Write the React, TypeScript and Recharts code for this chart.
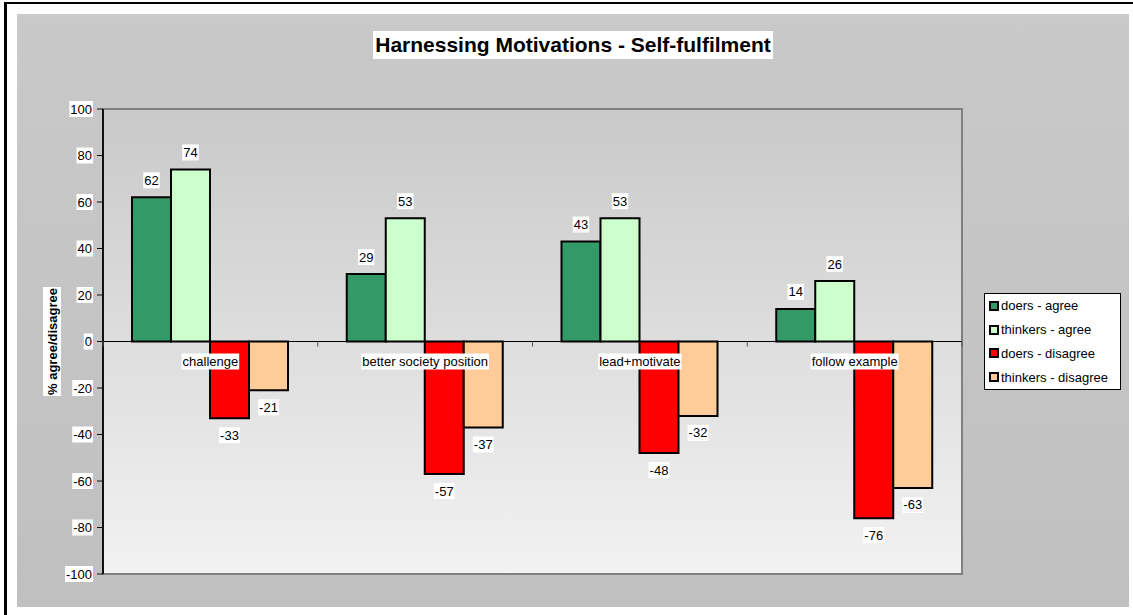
import React from 'react';
import { BarChart, Bar, XAxis, YAxis, ReferenceLine, ReferenceArea, CartesianGrid, LabelList, Legend } from 'recharts';

const categories = ['challenge', 'better society position', 'lead+motivate', 'follow example'];
const doersAgree = [62, 29, 43, 14];
const thinkersAgree = [74, 53, 53, 26];
const doersDisagree = [-33, -57, -48, -76];
const thinkersDisagree = [-21, -37, -32, -63];
const yTicks = [-100, -80, -60, -40, -20, 0, 20, 40, 60, 80, 100];

const series = [
  { key: 'doersAgree', name: 'doers - agree', color: '#339966' },
  { key: 'thinkersAgree', name: 'thinkers - agree', color: '#CCFFCC' },
  { key: 'doersDisagree', name: 'doers - disagree', color: '#FF0000' },
  { key: 'thinkersDisagree', name: 'thinkers - disagree', color: '#FFCC99' },
];

const data = categories.map((category, i) => ({
  category,
  doersAgree: doersAgree[i],
  thinkersAgree: thinkersAgree[i],
  doersDisagree: doersDisagree[i],
  thinkersDisagree: thinkersDisagree[i],
}));

const W = 1133;
const H = 615;
const FONT = "'Liberation Sans', Arial, sans-serif";
const X_AXIS_H = 1;
const MARGIN = { top: 109, right: 171, bottom: 41 - X_AXIS_H, left: 43 };
const Y_AXIS_W = 60;
const PLOT_H = H - MARGIN.top - MARGIN.bottom - X_AXIS_H;
const PLOT_W = W - MARGIN.left - MARGIN.right - Y_AXIS_W;
// y of the zero line (domain is -100..100)
const ZERO_Y = MARGIN.top + PLOT_H / 2;

const canvasCtx = typeof document !== 'undefined' ? document.createElement('canvas').getContext('2d') : null;
function textWidth(s: string, size = 13, weight = 'normal') {
  if (!canvasCtx) return s.length * size * 0.55;
  canvasCtx.font = `${weight} ${size}px ${FONT}`;
  return canvasCtx.measureText(s).width;
}

function BoxedText({ x, y, text, anchor = 'middle', size = 13, weight = 'normal' }: any) {
  const w = textWidth(text, size, weight);
  const left = anchor === 'end' ? x - w : anchor === 'start' ? x : x - w / 2;
  return (
    <g>
      <rect x={left - 1} y={y - 8} width={w + 2} height={16} fill="#fff" />
      <text x={x} y={y} textAnchor={anchor} dominantBaseline="central" fontSize={size} fontWeight={weight} fontFamily={FONT} fill="#000">
        {text}
      </text>
    </g>
  );
}

const YTick = ({ x, y, payload }: any) => <BoxedText x={x} y={y} text={String(payload.value)} anchor="end" />;

const CategoryTick = ({ x, index, visibleTicksCount, payload }: any) => {
  const band = PLOT_W / categories.length;
  const left = x - band / 2;
  const right = x + band / 2;
  return (
    <g>
      <line x1={left} x2={left} y1={ZERO_Y} y2={ZERO_Y + 5} stroke="#555" strokeWidth={1} />
      {index === (visibleTicksCount ?? categories.length) - 1 && (
        <line x1={right} x2={right} y1={ZERO_Y} y2={ZERO_Y + 5} stroke="#555" strokeWidth={1} />
      )}
      <BoxedText x={x} y={ZERO_Y + 20} text={String(payload.value)} />
    </g>
  );
};

const ValueLabel = (props: any) => {
  const { x, y, width, height, value } = props;
  const cx = x + width / 2;
  const end = value >= 0 ? Math.min(y, y + height) : Math.max(y, y + height);
  const cy = value >= 0 ? end - 17 : end + 17;
  return <BoxedText x={cx} y={cy} text={String(value)} />;
};

const YLabel = (props: any) => {
  const vb = props.viewBox || { x: MARGIN.left, y: MARGIN.top, width: Y_AXIS_W, height: PLOT_H };
  const cx = vb.x + 9;
  const cy = vb.y + vb.height / 2;
  const text = '% agree/disagree';
  const w = textWidth(text, 13, 'bold');
  return (
    <g transform={`translate(${cx},${cy}) rotate(-90)`}>
      <rect x={-w / 2 - 1} y={-9} width={w + 2} height={18} fill="#fff" />
      <text x={0} y={0} textAnchor="middle" dominantBaseline="central" fontSize={13} fontWeight="bold" fontFamily={FONT}>
        {text}
      </text>
    </g>
  );
};

const LegendBox = ({ payload }: any) => {
  const items = series.map((s) => {
    const p = (payload || []).find((q: any) => q.value === s.name);
    return { name: s.name, color: p ? p.color : s.color };
  });
  return (
    <div style={{ border: '1px solid #000', background: '#fff', boxSizing: 'border-box', width: 137, height: 97, fontFamily: FONT, fontSize: 13 }}>
      {items.map((p) => (
        <div key={p.name} style={{ height: 23.75, display: 'flex', alignItems: 'center', paddingLeft: 4 }}>
          <span style={{ display: 'inline-block', width: 10, height: 10, boxSizing: 'border-box', border: '2px solid #000', background: p.color, marginRight: 2 }} />
          <span style={{ color: '#000' }}>{p.name}</span>
        </div>
      ))}
    </div>
  );
};

export default function App() {
  return (
    <div style={{ position: 'relative', width: W, height: H, background: '#fff', overflow: 'hidden' }}>
      <style>{'body{margin:0}'}</style>
      <div style={{ position: 'absolute', left: 4, top: 2, width: W, height: 2, background: '#000' }} />
      <div style={{ position: 'absolute', left: 4, top: 2, width: 3, height: H, background: '#000' }} />
      <div style={{ position: 'absolute', left: 17, top: 14, width: 1112, height: 593, background: 'linear-gradient(#c9c9c9, #c0c0c0)' }} />
      <div style={{ position: 'absolute', left: 17, top: 31, width: 1112, textAlign: 'center' }}>
        <span style={{ display: 'inline-block', background: '#fff', padding: '3px 2px', lineHeight: '22px', fontFamily: FONT, fontSize: 21, fontWeight: 'bold', color: '#000' }}>
          Harnessing Motivations - Self-fulfilment
        </span>
      </div>
      <div style={{ position: 'absolute', left: 0, top: 0 }}>
        <BarChart width={W} height={H} data={data} margin={MARGIN} barGap={0} barSize={39}>
          <defs>
            <linearGradient id="plotBg" x1="0" y1="0" x2="0" y2="1">
              <stop offset="0%" stopColor="#c9c9c9" />
              <stop offset="100%" stopColor="#f2f2f2" />
            </linearGradient>
          </defs>
          <CartesianGrid horizontal={false} vertical={false} fill="url(#plotBg)" fillOpacity={1} />
          <ReferenceArea y1={-100} y2={100} fill="none" stroke="#808080" strokeWidth={2} ifOverflow="visible" />
          <ReferenceLine y={0} stroke="#000" strokeWidth={1} />
          <YAxis
            width={Y_AXIS_W}
            domain={[-100, 100]}
            ticks={yTicks}
            interval={0}
            tickSize={6}
            tickMargin={5}
            axisLine={{ stroke: '#111', strokeWidth: 2 }}
            tickLine={{ stroke: '#111', strokeWidth: 1 }}
            tick={<YTick />}
            label={<YLabel />}
          />
          {series.map((s) => (
            <Bar key={s.key} dataKey={s.key} name={s.name} fill={s.color} stroke="#000" strokeWidth={2} isAnimationActive={false}>
              <LabelList dataKey={s.key} content={<ValueLabel />} />
            </Bar>
          ))}
          <XAxis
            dataKey="category"
            height={X_AXIS_H}
            axisLine={false}
            tickLine={false}
            tickSize={0}
            interval={0}
            tick={(props: any) => <CategoryTick {...props} />}
          />
          <Legend
            layout="vertical"
            align="center"
            verticalAlign="middle"
            content={<LegendBox />}
            wrapperStyle={{ left: 984, top: 293, width: 137, height: 97 }}
          />
        </BarChart>
      </div>
    </div>
  );
}
